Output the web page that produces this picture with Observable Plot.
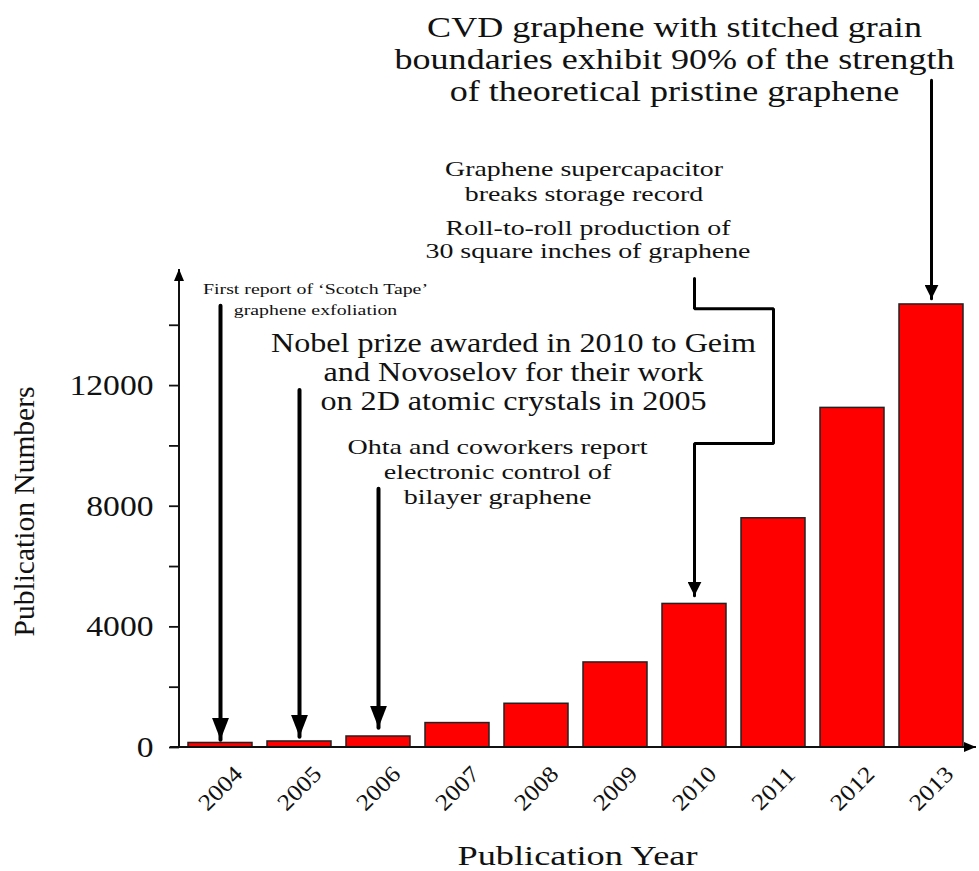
<!DOCTYPE html>
<html><head><meta charset="utf-8">
<script src="https://cdn.jsdelivr.net/npm/d3@7"></script>
<script src="https://cdn.jsdelivr.net/npm/@observablehq/plot@0.6"></script>
<style>
body{margin:0;background:#fff;}
#chart svg text, #chart svg tspan { font-family: "Liberation Serif", "Times New Roman", serif !important; }
</style>
</head><body><div id="chart"></div>
<script>
const years = ["2004","2005","2006","2007","2008","2009","2010","2011","2012","2013"];
const publications = [150, 200, 365, 810, 1450, 2820, 4760, 7600, 11260, 14690];
const yTickValues = [0, 2000, 4000, 6000, 8000, 10000, 12000, 14000];
const yTickLabels = ["0", "", "4000", "", "8000", "", "12000", ""];
const yMax = 15650;

const notes = [
  "First report of \u2018Scotch Tape\u2019\ngraphene exfoliation",
  "Nobel prize awarded in 2010 to Geim\nand Novoselov for their work\non 2D atomic crystals in 2005",
  "Ohta and coworkers report\nelectronic control of\nbilayer graphene",
  "Graphene supercapacitor\nbreaks storage record",
  "Roll-to-roll production of\n30 square inches of graphene",
  "CVD graphene with stitched grain\nboundaries exhibit 90% of the strength\nof theoretical pristine graphene"
];
const noteYears = ["2005", "2008", "2007", "2009", "2009", "2010"];
const noteValues = [14900, 12470, 9180, 18790, 16860, 22830];

const arrowIds = ["a2004","a2004","a2005","a2005","a2006","a2006"];
const arrowYears = ["2004","2004","2005","2005","2006","2006"];
const arrowValues = [14650, 255, 11850, 355, 8580, 655];
const arrow2013Years = ["2013", "2013"];
const arrow2013Values = [22120, 14880];
const elbowYears = ["2010","2010","2011","2011","2010","2010"];
const elbowValues = [15550, 14550, 14550, 10080, 10080, 5030];

const bars = years.map((y, i) => ({year: y, value: publications[i]}));
const arrows = arrowIds.map((id, i) => ({id, year: arrowYears[i], value: arrowValues[i]}));
const arrow2013 = arrow2013Years.map((y, i) => ({year: y, value: arrow2013Values[i]}));
const elbow = elbowYears.map((y, i) => ({year: y, value: elbowValues[i]}));
const note = i => [{year: noteYears[i], value: noteValues[i], text: notes[i]}];
const font = "Liberation Serif, Times New Roman, serif";
const T = {fontFamily: font, fill: "#111"};

const plot = Plot.plot({
  width: 979,
  height: 871,
  marginLeft: 179,
  marginRight: 7,
  marginTop: 275,
  marginBottom: 124,
  style: {fontFamily: font, color: "#111", background: "#fff"},
  x: {domain: years, paddingInner: 0.19, paddingOuter: 0.1, axis: null},
  y: {domain: [0, yMax], label: null},
  marks: [
    Plot.barY(bars, {x: "year", y: "value", fill: "#ff0000", stroke: "#222", strokeWidth: 1.5}),
    Plot.axisY(yTickValues, {tickFormat: d => yTickLabels[yTickValues.indexOf(d)], tickSize: 10, tickPadding: 16, fontSize: 29.5, fontFamily: font, strokeWidth: 1.8, stroke: "#111", label: null, className: "ytick"}),
    Plot.text(years, {x: d => d, frameAnchor: "bottom", dy: 41, rotate: -45, textAnchor: "middle", lineAnchor: "middle", fontSize: 23, ...T, className: "xtick"}),
    Plot.text(["Publication Numbers"], {frameAnchor: "left", rotate: -90, dx: -155, textAnchor: "middle", lineAnchor: "middle", fontSize: 29, ...T, className: "ylab"}),
    Plot.text(["Publication Year"], {frameAnchor: "bottom", dx: 1.5, dy: 109, textAnchor: "middle", lineAnchor: "middle", fontSize: 27, ...T, className: "xlab"}),
    Plot.line(arrows, {x: "year", y: "value", z: "id", stroke: "#000", strokeWidth: 4, className: "arrowbig"}),
    Plot.line(arrow2013, {x: "year", y: "value", stroke: "#000", strokeWidth: 3, className: "arrowsmall"}),
    Plot.line(elbow, {x: "year", y: "value", stroke: "#000", strokeWidth: 3, strokeLinejoin: "miter", className: "arrowsmall"}),
    Plot.text(note(0), {x: "year", y: "value", text: "text", dx: 16, fontSize: 15, lineHeight: 1.4, ...T, className: "note0"}),
    Plot.text(note(1), {x: "year", y: "value", text: "text", dx: -23, fontSize: 27, lineHeight: 1.08, ...T, className: "note1"}),
    Plot.text(note(2), {x: "year", y: "value", text: "text", dx: 40, fontSize: 21, lineHeight: 1.19, ...T, className: "note2"}),
    Plot.text(note(3), {x: "year", y: "value", text: "text", dx: -31.5, fontSize: 21, lineHeight: 1.19, ...T, className: "note3"}),
    Plot.text(note(4), {x: "year", y: "value", text: "text", dx: -27.5, fontSize: 20, lineHeight: 1.15, ...T, className: "note4"}),
    Plot.text(note(5), {x: "year", y: "value", text: "text", dx: -20, fontSize: 29.5, lineHeight: 1.07, ...T, className: "note5"})
  ]
});
document.getElementById("chart").appendChild(plot);

const svg = d3.select(plot);

// the source figure is horizontally stretched: widen glyphs to match
function textEls(sel) {
  const out = [];
  svg.selectAll(sel).selectAll("text").each(function() {
    const spans = this.querySelectorAll("tspan");
    if (spans.length) spans.forEach(s => out.push(s)); else out.push(this);
  });
  return out;
}
function stretchTo(sel, width) {
  const els = textEls(sel);
  const maxW = d3.max(els, e => e.getComputedTextLength());
  const k = width / maxW;
  els.forEach(e => {
    e.setAttribute("textLength", e.getComputedTextLength() * k);
    e.setAttribute("lengthAdjust", "spacingAndGlyphs");
  });
}
function stretchBy(sel, k) {
  textEls(sel).forEach(e => {
    const w = e.getComputedTextLength();
    if (w > 0) {
      e.setAttribute("textLength", w * k);
      e.setAttribute("lengthAdjust", "spacingAndGlyphs");
    }
  });
}
stretchTo(".note0", 225);
stretchTo(".note1", 485);
stretchTo(".note2", 300);
stretchTo(".note3", 278);
stretchTo(".note4", 325);
stretchTo(".note5", 560);
stretchTo(".xlab", 240);
stretchTo(".ylab", 250);
stretchBy(".xtick", 1.12);
stretchBy(".ytick", 1.14);

// arrowheads and axis lines with arrow ends
const defs = svg.insert("defs", ":first-child");
function marker(id, len, wid) {
  defs.append("marker").attr("id", id).attr("markerUnits", "userSpaceOnUse")
    .attr("viewBox", `0 0 ${len} ${wid}`).attr("markerWidth", len).attr("markerHeight", wid)
    .attr("refX", len).attr("refY", wid / 2).attr("orient", "auto")
    .append("path").attr("d", `M0,0L${len},${wid / 2}L0,${wid}Z`).attr("fill", "#000");
}
marker("ahBig", 22, 17);
marker("ahSmall", 14, 14);
marker("ahAxis", 12, 10);
svg.selectAll(".arrowbig path").attr("marker-end", "url(#ahBig)");
svg.selectAll(".arrowsmall path").attr("marker-end", "url(#ahSmall)");

const ys = plot.scale("y");
const y0 = ys.apply(0);
const yTop = ys.apply(yMax);
const left = 179, right = 979;
svg.append("line").attr("x1", left - 9).attr("x2", right - 3).attr("y1", y0).attr("y2", y0)
  .attr("stroke", "#111").attr("stroke-width", 2).attr("marker-end", "url(#ahAxis)");
svg.append("line").attr("x1", left).attr("x2", left).attr("y1", y0).attr("y2", yTop - 6)
  .attr("stroke", "#111").attr("stroke-width", 2).attr("marker-end", "url(#ahAxis)");
</script>
</body></html>
